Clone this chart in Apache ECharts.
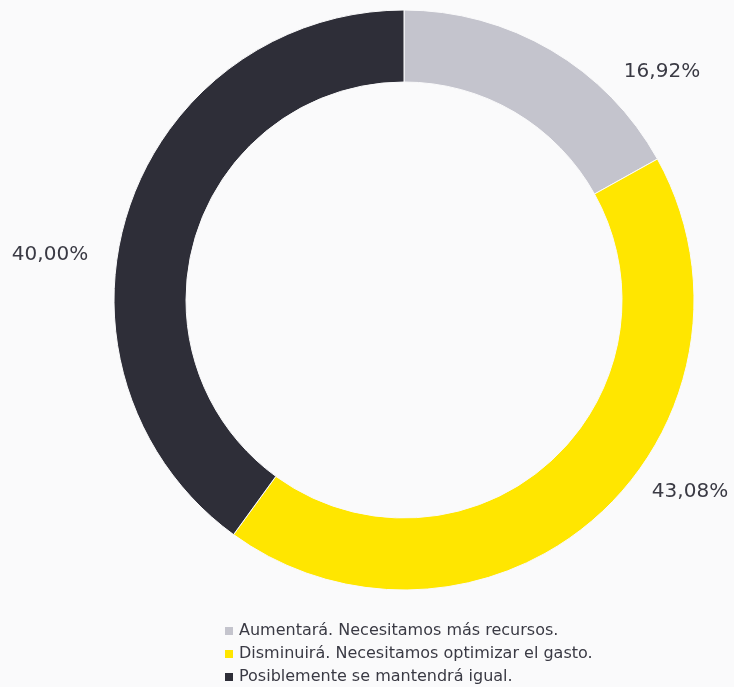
<!DOCTYPE html>
<html>
<head>
<meta charset="utf-8">
<script src="https://cdn.jsdelivr.net/npm/echarts@6/dist/echarts.min.js"></script>
<style>
  html, body { margin: 0; padding: 0; background: #fafafb; }
  #chart { width: 734px; height: 687px; }
</style>
</head>
<body>
<div id="chart"></div>
<script>
// Survey answers and their shares (%)
const categories = [
  'Aumentará. Necesitamos más recursos.',
  'Disminuirá. Necesitamos optimizar el gasto.',
  'Posiblemente se mantendrá igual.'
];
const values = [16.92, 43.08, 40.00];
const colors = ['#c4c4cd', '#ffe600', '#2e2e38'];

// Where each percentage label sits (centre of text, px)
const labelPos = [[662, 72], [690, 492], [50, 255]];

const fmt = v => v.toFixed(2).replace('.', ',') + '%';

const chart = echarts.init(document.getElementById('chart'));
chart.setOption({
  backgroundColor: '#fafafb',
  animation: false,
  color: colors,
  legend: {
    orient: 'vertical',
    left: 218,
    top: 618,
    height: 80,
    itemWidth: 10,
    itemHeight: 10,
    itemGap: 7,
    icon: 'rect',
    selectedMode: false,
    textStyle: { color: '#3a3a44', fontSize: 16, fontFamily: 'DejaVu Sans' },
    data: categories
  },
  series: [{
    type: 'pie',
    center: [404, 300],
    radius: [218, 290],
    startAngle: 90,
    clockwise: true,
    silent: true,
    itemStyle: { borderColor: '#fafafb', borderWidth: 1 },
    label: {
      show: true,
      position: 'outside',
      overflow: 'none',
      formatter: p => fmt(p.value),
      color: '#3a3a44',
      fontSize: 20,
      fontFamily: 'DejaVu Sans'
    },
    labelLine: { show: false },
    labelLayout: params => ({
      x: labelPos[params.dataIndex][0],
      y: labelPos[params.dataIndex][1],
      align: 'center',
      verticalAlign: 'middle'
    }),
    data: categories.map((name, i) => ({ name, value: values[i] }))
  }]
});
</script>
</body>
</html>
